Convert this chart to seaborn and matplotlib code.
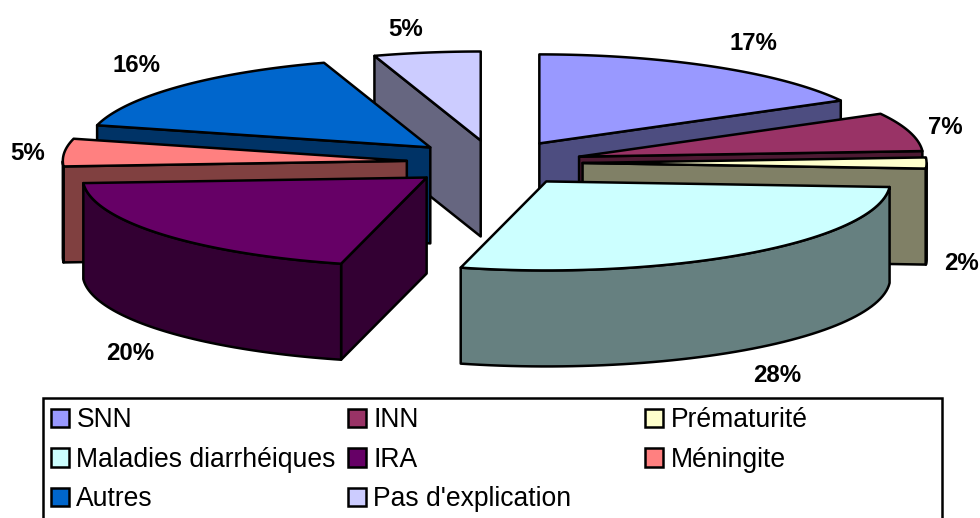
import numpy as np
import matplotlib.pyplot as plt
import matplotlib.colors as mcolors
from matplotlib.patches import Polygon, Patch, Rectangle
import seaborn as sns

# ===============================
# DATA
# ===============================
causes = ["SNN", "INN", "Prématurité", "Maladies diarrhéiques", "IRA",
          "Méningite", "Autres", "Pas d'explication"]
shares = [17, 7, 2, 28, 20, 5, 16, 5]
top_colors = ["#9999FF", "#993366", "#FFFFCC", "#CCFFFF", "#660066",
              "#FF8080", "#0066CC", "#CCCCFF"]
label_pos = [(753, 43), (945, 128), (961, 263), (777, 375), (130, 354),
             (28, 153), (136, 66), (406, 30)]

# ===============================
# PIE GEOMETRY (pixels)
# ===============================
CX, CY = 494.5, 163
RX, RY = 344, 89
DEPTH = 96
EXPLODE = 0.256
LW = 1.8

sns.set_theme(style="white")
plt.rcParams["font.family"] = ["Liberation Sans", "DejaVu Sans"]
plt.rcParams["text.color"] = "black"

fig = plt.figure(figsize=(9.8, 5.18), dpi=100)
ax = fig.add_axes([0, 0, 1, 1])
ax.set_xlim(0, 980)
ax.set_ylim(518, 0)
ax.axis("off")


def rim(apex, theta):
    return np.column_stack([apex[0] + RX * np.sin(theta), apex[1] - RY * np.cos(theta)])


def face(points, color, z):
    ax.add_patch(Polygon(points, closed=True, facecolor=color, edgecolor="black",
                         linewidth=LW, joinstyle="round", zorder=z))


edges = np.cumsum([0] + shares) / sum(shares) * 2 * np.pi
slices = []
for i in range(len(shares)):
    t0, t1 = edges[i], edges[i + 1]
    mid = (t0 + t1) / 2
    apex = (CX + EXPLODE * RX * np.sin(mid), CY - EXPLODE * RY * np.cos(mid))
    slices.append((apex[1], i, t0, t1, apex))

# back slices first
for z, (_, i, t0, t1, apex) in enumerate(sorted(slices, key=lambda s: s[0])):
    color = top_colors[i]
    dark = tuple(0.5 * c for c in mcolors.to_rgb(color))
    down = np.array([0, DEPTH])
    a = np.array(apex)
    thetas = np.linspace(t0, t1, 60)
    outer = rim(apex, thetas)

    if np.sin(t0) < -1e-6:
        p = rim(apex, np.array([t0]))[0]
        face([p, a, a + down, p + down], dark, z * 10 + 1)
    if np.sin(t1) > 1e-6:
        p = rim(apex, np.array([t1]))[0]
        face([p, a, a + down, p + down], dark, z * 10 + 1)

    # curved front wall, only where the rim faces the viewer
    front = thetas[np.cos(thetas) < 0]
    if len(front) > 1:
        arc = rim(apex, front)
        face(np.vstack([arc, arc[::-1] + down]), dark, z * 10 + 2)

    face(np.vstack([[a], outer]), color, z * 10 + 3)

# ===============================
# LABELS
# ===============================
for share, (x, y) in zip(shares, label_pos):
    ax.text(x, y, f"{share}%", fontsize=17.3, fontweight="bold", color="black",
            ha="center", va="center", zorder=200)

# ===============================
# LEGEND
# ===============================
# frame runs off the bottom of the picture like the reference
ax.add_patch(Rectangle((43, 398), 899, 130, facecolor="white", edgecolor="black",
                       linewidth=LW, zorder=290))

handles = [Patch(facecolor=c, edgecolor="black", linewidth=LW, label=n)
           for c, n in zip(top_colors, causes)]
# matplotlib fills columns first, the reference reads row by row
order = [0, 3, 6, 1, 4, 7, 2, 5]
leg = ax.legend([handles[k] for k in order], [causes[k] for k in order],
                ncol=3, loc="upper left", bbox_to_anchor=(43 / 980, 1 - 399.5 / 518),
                borderaxespad=0, fontsize=19.1, frameon=False,
                handlelength=0.68, handleheight=0.68,
                handletextpad=0.28, columnspacing=0.46, labelspacing=0.5,
                borderpad=0.3, labelcolor="black")
leg.set_zorder(300)
# same width for every column
leg._legend_handle_box.mode = "equal"

fig.savefig("out.png", dpi=100, facecolor="white")
